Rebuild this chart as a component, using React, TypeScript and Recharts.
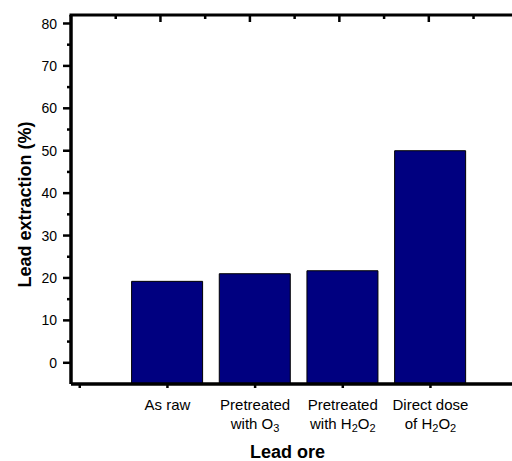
import { BarChart, Bar, XAxis, YAxis } from 'recharts'

const categoryPositions = [1, 2, 3, 4]
const categoryLabels = [
  ['As raw'],
  ['Pretreated', 'with O_3'],
  ['Pretreated', 'with H_2O_2'],
  ['Direct dose', 'of H_2O_2']
]
const leadExtraction = [19.2, 21.0, 21.7, 50.0]
const barBase = -5
const yMax = 82

const yTicks = [0, 5, 10, 15, 20, 25, 30, 35, 40, 45, 50, 55, 60, 65, 70, 75, 80]
const bottomTicks = [0, 1, 2, 3, 4]
const topTicks = [0.5, 1, 1.5, 2, 2.5, 3, 3.5, 4, 4.5]
const topAxisMax = 4.93

const data = categoryPositions.map((pos, i) => ({
  pos,
  extraction: [barBase, leadExtraction[i]]
}))

const FONT = '"Liberation Sans", Arial, sans-serif'
const W = 512
const H = 461
const PLOT_LEFT = 71
const PLOT_TOP = 15

// turns "H_2O_2" into pieces with subscripts
function renderRich(line: string) {
  const parts = line.split(/(_\d)/).filter((p) => p !== '')
  const out: any[] = []
  let shifted = false
  parts.forEach((p, i) => {
    if (p.startsWith('_')) {
      out.push(
        <tspan key={i} fontSize={11} dy={shifted ? 0 : 3}>
          {p.slice(1)}
        </tspan>
      )
      shifted = true
    } else {
      out.push(
        <tspan key={i} dy={shifted ? -3 : 0}>
          {p}
        </tspan>
      )
      shifted = false
    }
  })
  return out
}

function LeftTick({ x, y, payload }: any) {
  const major = payload.value % 10 === 0
  return (
    <g>
      <line x1={x} x2={x - (major ? 8 : 4)} y1={y} y2={y} stroke="#000" strokeWidth={2.5} />
      {major && (
        <text x={x - 14} y={y} dy="0.36em" textAnchor="end" fontSize={14} fontFamily={FONT} fill="#000">
          {payload.value}
        </text>
      )}
    </g>
  )
}

function BottomTick({ x, y, payload }: any) {
  const lines = categoryLabels[payload.value - 1] || []
  return (
    <g>
      <line x1={x} x2={x} y1={y} y2={y + 4} stroke="#000" strokeWidth={2.5} />
      {lines.map((line, i) => (
        <text key={i} x={x} y={y + 26 + i * 19} textAnchor="middle" fontSize={15} fontFamily={FONT} fill="#000">
          {renderRich(line)}
        </text>
      ))}
    </g>
  )
}

// top frame line with inward ticks (the plot runs off the right edge of the picture)
function TopFrame() {
  const span = W - PLOT_LEFT
  return (
    <g>
      <line x1={PLOT_LEFT - 1.5} x2={W} y1={PLOT_TOP} y2={PLOT_TOP} stroke="#000" strokeWidth={3} />
      {topTicks.map((t) => {
        const x = PLOT_LEFT + (t / topAxisMax) * span
        const major = Number.isInteger(t)
        return <line key={t} x1={x} x2={x} y1={PLOT_TOP} y2={PLOT_TOP + (major ? 7 : 4)} stroke="#000" strokeWidth={2.5} />
      })}
    </g>
  )
}

export default function App() {
  return (
    <div style={{ position: 'absolute', left: 0, top: 0, width: W, height: H, overflow: 'hidden', background: '#fff' }}>
      <BarChart width={W} height={H} data={data} margin={{ top: PLOT_TOP, right: 0, bottom: 0, left: 0 }}>
        <XAxis
          dataKey="pos"
          type="number"
          domain={[-0.1, 4.93]}
          allowDataOverflow
          ticks={bottomTicks}
          interval={0}
          height={77}
          tickSize={0}
          tickMargin={0}
          tickLine={false}
          tick={<BottomTick />}
          axisLine={{ stroke: '#000', strokeWidth: 3.5 }}
          label={{
            content: ({ viewBox }: any) => (
              <text
                x={viewBox.x + viewBox.width / 2 - 4}
                y={458}
                textAnchor="middle"
                fontSize={18}
                fontWeight="bold"
                fontFamily={FONT}
                fill="#000"
              >
                Lead ore
              </text>
            )
          }}
        />
        <YAxis
          type="number"
          domain={[barBase, yMax]}
          allowDataOverflow
          ticks={yTicks}
          interval={0}
          width={PLOT_LEFT}
          tickSize={0}
          tickMargin={0}
          tickLine={false}
          tick={<LeftTick />}
          axisLine={{ stroke: '#000', strokeWidth: 3.5 }}
          label={{
            content: ({ viewBox }: any) => {
              const cx = 25
              const cy = viewBox.y + viewBox.height / 2 + 5
              return (
                <text
                  x={cx}
                  y={cy}
                  transform={`rotate(-90 ${cx} ${cy})`}
                  textAnchor="middle"
                  dy="0.35em"
                  fontSize={18}
                  fontWeight="bold"
                  fontFamily={FONT}
                  fill="#000"
                >
                  Lead extraction (%)
                </text>
              )
            }
          }}
        />
        <Bar dataKey="extraction" fill="#000080" stroke="#000" strokeWidth={1} barSize={71} isAnimationActive={false} />
        <TopFrame />
      </BarChart>
    </div>
  )
}
